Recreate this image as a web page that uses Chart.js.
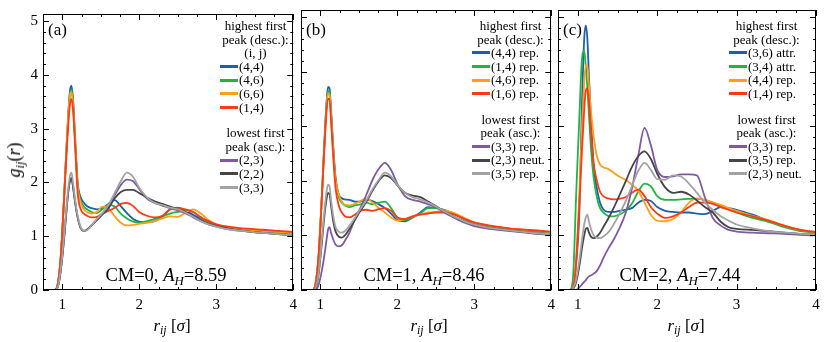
<!DOCTYPE html>
<html>
<head>
<meta charset="utf-8">
<script src="https://cdn.jsdelivr.net/npm/chart.js@4.4.1/dist/chart.umd.min.js"></script>
<style>
  html, body { margin: 0; padding: 0; background: #fff; }
  #wrap { position: relative; width: 830px; height: 342px; overflow: hidden;
          font-family: "Liberation Serif", "DejaVu Serif", serif; color: #000; }
  canvas { position: absolute; top: 0; }
  .txt { position: absolute; white-space: nowrap; }
  .ann { font-size: 18.5px; line-height: 18px; transform: translateX(-50%); }
  .plab { font-size: 17px; line-height: 17px; }
  .xt { font-size: 17px; line-height: 17px; transform: translate(-50%, -50%); }
  .yt { font-size: 18px; line-height: 18px; transform: translate(-50%, -50%) rotate(-90deg); }
  sub { font-size: 70%; vertical-align: -0.3em; line-height: 0; }
  .leg { position: absolute; font-size: 13px; line-height: 13.6px; white-space: nowrap; }
  .leg .head { text-align: center; }
  .leg .row { display: flex; align-items: center; }
  .leg .sw { width: 18px; height: 3px; margin-right: 1px; }
  .leg .gap { height: 12px; }
</style>
</head>
<body>
<div id="wrap">
  <canvas id="pa" width="303" height="342" style="left:0px"></canvas>
  <canvas id="pb" width="263" height="342" style="left:298px"></canvas>
  <canvas id="pc" width="275" height="342" style="left:555px"></canvas>

  <div class="txt plab" style="left:48px; top:21px">(a)</div>
  <div class="txt plab" style="left:306px; top:21px">(b)</div>
  <div class="txt plab" style="left:563px; top:21px">(c)</div>

  <div class="txt ann" style="left:166px; top:266px">CM=0, <i>A</i><sub><i>H</i></sub>=8.59</div>
  <div class="txt ann" style="left:424px; top:266px">CM=1, <i>A</i><sub><i>H</i></sub>=8.46</div>
  <div class="txt ann" style="left:680px; top:266px">CM=2, <i>A</i><sub><i>H</i></sub>=7.44</div>

  <div class="txt yt" style="left:14px; top:160px"><i>g</i><sub><i>ij</i></sub>(<i>r</i>)</div>
  <div class="txt xt" style="left:172px; top:325px"><i>r</i><sub><i>ij</i></sub> [<i>σ</i>]</div>
  <div class="txt xt" style="left:429px; top:325px"><i>r</i><sub><i>ij</i></sub> [<i>σ</i>]</div>
  <div class="txt xt" style="left:686px; top:325px"><i>r</i><sub><i>ij</i></sub> [<i>σ</i>]</div>
</div>

<script>
// pair distance grid (in units of sigma), shared by all curves
const r = [0.75, 0.90, 0.94, 0.98, 1.02, 1.05, 1.08, 1.10, 1.12, 1.14, 1.17, 1.20, 1.24, 1.28, 1.32,
           1.38, 1.45, 1.52, 1.60, 1.68, 1.76, 1.84, 1.92, 2.00, 2.10, 2.20, 2.30, 2.40, 2.50, 2.60,
           2.70, 2.80, 2.90, 3.00, 3.20, 3.40, 3.60, 3.80, 4.00];

// axis tick labels
const xTicks = [1, 2, 3, 4];
const yTicks = [0, 1, 2, 3, 4, 5];

// (a) CM=0
const cm0Labels = ['(4,4)', '(4,6)', '(6,6)', '(1,4)', '(2,3)', '(2,2)', '(3,3)'];
const cm0_44 = [0, 0, 0.1, 0.6, 1.6, 2.5, 3.3, 3.7, 3.8, 3.55, 2.75, 2.0, 1.72, 1.62, 1.56, 1.52, 1.5, 1.52, 1.6, 1.67, 1.56, 1.43, 1.32, 1.27, 1.26, 1.28, 1.36, 1.5, 1.53, 1.47, 1.4, 1.32, 1.25, 1.2, 1.15, 1.12, 1.1, 1.08, 1.05];
const cm0_46 = [0, 0, 0.1, 0.6, 1.6, 2.5, 3.3, 3.65, 3.72, 3.5, 2.7, 1.95, 1.66, 1.55, 1.5, 1.45, 1.43, 1.5, 1.58, 1.55, 1.42, 1.33, 1.27, 1.25, 1.28, 1.32, 1.37, 1.42, 1.45, 1.47, 1.45, 1.35, 1.26, 1.2, 1.15, 1.12, 1.1, 1.08, 1.05];
const cm0_66 = [0, 0, 0.1, 0.6, 1.6, 2.5, 3.3, 3.62, 3.68, 3.45, 2.68, 1.92, 1.62, 1.5, 1.45, 1.42, 1.45, 1.55, 1.52, 1.37, 1.25, 1.2, 1.21, 1.23, 1.25, 1.28, 1.33, 1.37, 1.36, 1.43, 1.5, 1.42, 1.3, 1.22, 1.16, 1.12, 1.1, 1.08, 1.06];
const cm0_14 = [0, 0, 0.1, 0.6, 1.6, 2.4, 3.1, 3.45, 3.55, 3.35, 2.6, 1.8, 1.5, 1.42, 1.38, 1.35, 1.36, 1.42, 1.47, 1.53, 1.6, 1.62, 1.56, 1.45, 1.38, 1.35, 1.38, 1.5, 1.52, 1.5, 1.45, 1.35, 1.28, 1.22, 1.17, 1.14, 1.12, 1.1, 1.08];
const cm0_23 = [0, 0, 0.05, 0.35, 0.9, 1.4, 1.85, 2.03, 2.08, 1.92, 1.6, 1.35, 1.15, 1.1, 1.12, 1.2, 1.31, 1.42, 1.56, 1.76, 1.95, 2.05, 2.02, 1.88, 1.7, 1.62, 1.57, 1.52, 1.48, 1.43, 1.35, 1.28, 1.22, 1.18, 1.12, 1.09, 1.06, 1.04, 1.02];
const cm0_22 = [0, 0, 0.05, 0.35, 0.9, 1.4, 1.85, 2.03, 2.08, 1.92, 1.6, 1.35, 1.15, 1.1, 1.12, 1.2, 1.3, 1.4, 1.52, 1.7, 1.82, 1.86, 1.86, 1.8, 1.72, 1.65, 1.6, 1.55, 1.5, 1.45, 1.37, 1.29, 1.23, 1.19, 1.13, 1.09, 1.06, 1.04, 1.02];
const cm0_33 = [0, 0, 0.05, 0.38, 0.95, 1.45, 1.92, 2.12, 2.18, 2.0, 1.65, 1.38, 1.17, 1.1, 1.11, 1.2, 1.32, 1.43, 1.58, 1.8, 2.02, 2.18, 2.1, 1.9, 1.72, 1.62, 1.58, 1.53, 1.5, 1.44, 1.36, 1.28, 1.22, 1.18, 1.12, 1.09, 1.06, 1.04, 1.02];

// (b) CM=1
const cm1Labels = ['(4,4) rep.', '(1,4) rep.', '(4,6) rep.', '(1,6) rep.', '(3,3) rep.', '(2,3) neut.', '(3,5) rep.'];
const cm1_44 = [0, 0, 0.12, 0.65, 1.7, 2.6, 3.4, 3.72, 3.7, 3.3, 2.6, 2.05, 1.75, 1.68, 1.66, 1.65, 1.62, 1.62, 1.65, 1.63, 1.57, 1.5, 1.4, 1.28, 1.26, 1.33, 1.42, 1.52, 1.5, 1.47, 1.42, 1.35, 1.28, 1.23, 1.17, 1.13, 1.1, 1.08, 1.05];
const cm1_14 = [0, 0, 0.12, 0.65, 1.7, 2.58, 3.35, 3.65, 3.62, 3.25, 2.55, 2.0, 1.7, 1.6, 1.55, 1.52, 1.55, 1.57, 1.6, 1.57, 1.6, 1.62, 1.5, 1.33, 1.28, 1.33, 1.4, 1.5, 1.5, 1.47, 1.42, 1.35, 1.28, 1.23, 1.17, 1.13, 1.1, 1.08, 1.05];
const cm1_46 = [0, 0, 0.12, 0.65, 1.7, 2.55, 3.3, 3.6, 3.58, 3.2, 2.5, 2.0, 1.75, 1.62, 1.56, 1.55, 1.58, 1.63, 1.68, 1.6, 1.5, 1.42, 1.33, 1.27, 1.3, 1.35, 1.38, 1.42, 1.43, 1.45, 1.43, 1.37, 1.3, 1.24, 1.18, 1.14, 1.11, 1.09, 1.06];
const cm1_16 = [0, 0, 0.12, 0.65, 1.65, 2.5, 3.25, 3.5, 3.5, 3.1, 2.4, 1.85, 1.55, 1.42, 1.35, 1.33, 1.38, 1.45, 1.47, 1.45, 1.48, 1.5, 1.45, 1.33, 1.3, 1.35, 1.38, 1.4, 1.42, 1.42, 1.4, 1.35, 1.29, 1.24, 1.18, 1.14, 1.11, 1.09, 1.07];
const cm1_33 = [0, 0, 0, 0.1, 0.35, 0.6, 0.9, 1.1, 1.15, 1.05, 0.92, 0.83, 0.8, 0.82, 0.9, 1.05, 1.3, 1.5, 1.75, 2.02, 2.22, 2.33, 2.2, 1.95, 1.72, 1.65, 1.62, 1.57, 1.52, 1.43, 1.35, 1.28, 1.22, 1.17, 1.12, 1.09, 1.06, 1.03, 1.01];
const cm1_23 = [0, 0, 0.03, 0.3, 0.85, 1.3, 1.65, 1.78, 1.76, 1.55, 1.25, 1.07, 0.98, 0.96, 1.0, 1.12, 1.28, 1.45, 1.62, 1.82, 2.0, 2.1, 2.05, 1.92, 1.78, 1.73, 1.7, 1.62, 1.54, 1.45, 1.37, 1.3, 1.24, 1.2, 1.14, 1.1, 1.07, 1.04, 1.02];
const cm1_35 = [0, 0, 0.04, 0.33, 0.92, 1.4, 1.78, 1.93, 1.9, 1.65, 1.35, 1.15, 1.07, 1.05, 1.08, 1.18, 1.32, 1.48, 1.65, 1.85, 2.02, 2.15, 2.08, 1.93, 1.78, 1.7, 1.66, 1.6, 1.53, 1.45, 1.37, 1.3, 1.24, 1.2, 1.14, 1.1, 1.07, 1.04, 1.02];

// (c) CM=2
const cm2Labels = ['(3,6) attr.', '(3,4) attr.', '(4,4) rep.', '(1,4) rep.', '(3,3) rep.', '(3,5) rep.', '(2,3) neut.'];
const cm2_36 = [0, 0, 0.05, 0.5, 1.47, 3.3, 4.6, 4.85, 4.6, 3.9, 3.0, 2.27, 1.85, 1.6, 1.48, 1.43, 1.43, 1.45, 1.47, 1.5, 1.6, 1.65, 1.63, 1.52, 1.45, 1.43, 1.42, 1.42, 1.4, 1.39, 1.45, 1.52, 1.5, 1.47, 1.38, 1.27, 1.17, 1.1, 1.05];
const cm2_34 = [0, 0, 0.25, 1.8, 3.2, 4.2, 4.38, 4.1, 3.7, 3.2, 2.5, 2.05, 1.7, 1.5, 1.42, 1.36, 1.35, 1.38, 1.45, 1.58, 1.8, 1.95, 1.9, 1.72, 1.65, 1.65, 1.66, 1.67, 1.67, 1.65, 1.6, 1.55, 1.48, 1.42, 1.32, 1.25, 1.15, 1.08, 1.05];
const cm2_44 = [0, 0, 0.05, 0.6, 1.8, 2.9, 3.8, 4.12, 4.12, 3.75, 3.2, 2.8, 2.45, 2.3, 2.25, 2.22, 2.15, 2.08, 2.02, 1.93, 1.82, 1.6, 1.38, 1.27, 1.26, 1.3, 1.42, 1.6, 1.68, 1.65, 1.6, 1.56, 1.5, 1.45, 1.36, 1.28, 1.18, 1.1, 1.06];
const cm2_14 = [0, 0, 0.05, 0.55, 1.6, 2.5, 3.3, 3.65, 3.7, 3.45, 2.8, 2.3, 2.0, 1.8, 1.72, 1.68, 1.66, 1.67, 1.7, 1.78, 1.84, 1.72, 1.52, 1.4, 1.32, 1.35, 1.42, 1.52, 1.6, 1.6, 1.58, 1.52, 1.47, 1.42, 1.35, 1.27, 1.18, 1.1, 1.06];
const cm2_33 = [0, 0, 0, 0, 0.05, 0.1, 0.15, 0.18, 0.22, 0.25, 0.27, 0.3, 0.35, 0.45, 0.58, 0.75, 0.92, 1.12, 1.4, 1.85, 2.45, 2.97, 2.65, 2.2, 2.07, 2.08, 2.12, 2.12, 2.1, 1.7, 1.32, 1.18, 1.1, 1.07, 1.05, 1.04, 1.03, 1.01, 1.0];
const cm2_35 = [0, 0, 0.02, 0.15, 0.45, 0.75, 1.0, 1.12, 1.14, 1.05, 0.97, 0.95, 0.98, 1.05, 1.15, 1.3, 1.5, 1.72, 1.98, 2.25, 2.45, 2.54, 2.4, 2.13, 1.88, 1.78, 1.8, 1.75, 1.64, 1.52, 1.42, 1.25, 1.15, 1.12, 1.1, 1.08, 1.05, 1.03, 1.02];
const cm2_23 = [0, 0, 0.03, 0.2, 0.55, 0.9, 1.2, 1.33, 1.38, 1.25, 1.1, 1.0, 0.96, 0.95, 0.98, 1.05, 1.2, 1.38, 1.62, 1.9, 2.18, 2.33, 2.2, 2.03, 2.02, 2.1, 2.08, 1.95, 1.78, 1.6, 1.47, 1.35, 1.27, 1.2, 1.13, 1.08, 1.05, 1.03, 1.02];

// blue, green, orange, red | purple, dark grey, light grey
const COLORS = ['#1f5fa8', '#22b345', '#ff9f1c', '#ff3b16', '#7f5aa2', '#454545', '#a3a3a3'];

Chart.defaults.font.family = '"Liberation Serif", "DejaVu Serif", serif';

function isWhole(v) {
    return Math.abs(v - Math.round(v)) < 1e-6;
}

// frame + inward major/minor ticks on all four sides
const boxTicks = {
    id: 'boxTicks',
    afterDraw(chart) {
        const ctx = chart.ctx;
        const a = chart.chartArea;
        const x = chart.scales.x;
        const y = chart.scales.y;
        ctx.save();
        ctx.strokeStyle = '#000';
        ctx.lineWidth = 1;
        ctx.beginPath();
        for (let k = 0; k <= 13; k++) {
            const v = 0.75 + k * 0.25;
            const px = Math.round(x.getPixelForValue(v)) + 0.5;
            const len = isWhole(v) ? 6 : 3;
            ctx.moveTo(px, a.bottom); ctx.lineTo(px, a.bottom - len);
            ctx.moveTo(px, a.top); ctx.lineTo(px, a.top + len);
        }
        for (let k = 0; k <= 25; k++) {
            const py = Math.round(y.getPixelForValue(k * 0.2)) + 0.5;
            const len = k % 5 === 0 ? 6 : 3;
            ctx.moveTo(a.left, py); ctx.lineTo(a.left + len, py);
            ctx.moveTo(a.right, py); ctx.lineTo(a.right - len, py);
        }
        ctx.stroke();
        ctx.strokeRect(Math.round(a.left) + 0.5, Math.round(a.top) + 0.5,
                       Math.round(a.right - a.left) - 1, Math.round(a.bottom - a.top) - 1);
        ctx.restore();
    }
};

function makePanel(canvasId, series, showY, padRight) {
    const datasets = series.map((vals, i) => ({
        data: r.map((x, k) => ({ x: x, y: vals[k] })),
        borderColor: COLORS[i],
        borderWidth: 1.8,
        pointRadius: 0,
        fill: false,
        cubicInterpolationMode: 'monotone',
        order: series.length - i
    }));

    return new Chart(document.getElementById(canvasId), {
        type: 'line',
        data: { datasets: datasets },
        options: {
            responsive: false,
            animation: false,
            layout: { padding: { top: 10, right: padRight, left: 0, bottom: 0 } },
            plugins: {
                legend: { display: false },
                tooltip: { enabled: false }
            },
            scales: {
                x: {
                    type: 'linear',
                    min: 0.75,
                    max: 4,
                    grid: { display: false, drawTicks: false },
                    border: { display: false },
                    afterBuildTicks: s => { s.ticks = xTicks.map(v => ({ value: v })); },
                    ticks: {
                        padding: 6,
                        autoSkip: false,
                        maxRotation: 0,
                        color: '#000',
                        font: { size: 15 },
                        callback: v => String(v)
                    },
                    afterFit: s => { s.height = 52; }
                },
                y: {
                    type: 'linear',
                    min: 0,
                    max: 5.13,
                    grid: { display: false, drawTicks: false },
                    border: { display: false },
                    afterBuildTicks: s => { s.ticks = yTicks.map(v => ({ value: v })); },
                    ticks: {
                        display: showY,
                        padding: 5,
                        autoSkip: false,
                        color: '#000',
                        font: { size: 15 },
                        callback: v => String(v)
                    },
                    afterFit: s => { s.width = showY ? 43 : 3; }
                }
            }
        },
        plugins: [boxTicks]
    });
}

function addLegend(left, width, heads, labels) {
    const box = document.createElement('div');
    box.className = 'leg';
    box.style.left = left + 'px';
    box.style.top = '19px';
    box.style.width = width + 'px';
    let html = '';
    heads.forEach((lines, g) => {
        if (g > 0) html += '<div class="gap"></div>';
        lines.forEach(t => { html += '<div class="head">' + t + '</div>'; });
        for (let i = g * 4; i < Math.min(labels.length, g * 4 + 4); i++) {
            html += '<div class="row"><span class="sw" style="background:' + COLORS[i] + '"></span>' + labels[i] + '</div>';
        }
    });
    box.innerHTML = html;
    document.getElementById('wrap').appendChild(box);
}

makePanel('pa', [cm0_44, cm0_46, cm0_66, cm0_14, cm0_23, cm0_22, cm0_33], true, 3);
makePanel('pb', [cm1_44, cm1_14, cm1_46, cm1_16, cm1_33, cm1_23, cm1_35], false, 3);
makePanel('pc', [cm2_36, cm2_34, cm2_44, cm2_14, cm2_33, cm2_35, cm2_23], false, 14);

addLegend(220, 71, [['highest first', 'peak (desc.):', '(i, j)'], ['lowest first', 'peak (asc.):']], cm0Labels);
addLegend(472, 77, [['highest first', 'peak (desc.):'], ['lowest first', 'peak (asc.):']], cm1Labels);
addLegend(729, 75, [['highest first', 'peak (desc.):'], ['lowest first', 'peak (asc.):']], cm2Labels);
</script>
</body>
</html>
